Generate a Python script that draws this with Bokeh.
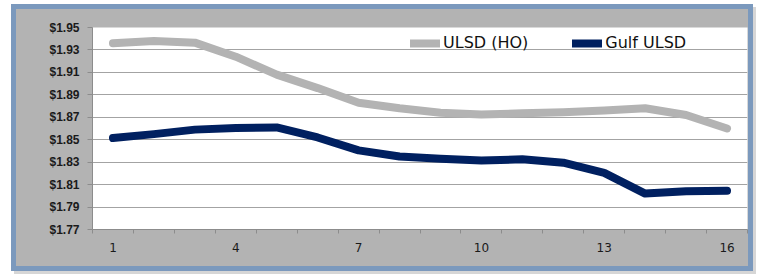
from bokeh.plotting import figure
from bokeh.models import (ColumnDataSource, FixedTicker, NumeralTickFormatter,
                          Legend, LegendItem, Range1d, LinearAxis)
from bokeh.embed import file_html
from bokeh.resources import INLINE

# ---- data ----
months = list(range(1, 17))
ulsd_ho = [1.936, 1.938, 1.9365, 1.924, 1.908, 1.896, 1.883, 1.878,
           1.874, 1.8725, 1.8735, 1.8745, 1.876, 1.878, 1.872, 1.860]
gulf_ulsd = [1.8515, 1.855, 1.859, 1.8605, 1.861, 1.852, 1.8405, 1.835,
             1.833, 1.8315, 1.8325, 1.8295, 1.8205, 1.802, 1.804, 1.8046]
x_tick_labels = [1, 4, 7, 10, 13, 16]
y_ticks = [1.77, 1.79, 1.81, 1.83, 1.85, 1.87, 1.89, 1.91, 1.93, 1.95]
series_names = ["ULSD (HO)", "Gulf ULSD"]
title_text = "Diesel Forward Curve"

GREY = "#b3b3b3"
NAVY = "#002060"
GRID = "#a3a3a3"
BORDER = "#7b99bd"
RED = "#e1232a"

src = ColumnDataSource(dict(x=months, ho=ulsd_ho, gulf=gulf_ulsd))

# panel drawn as CSS background layers behind the transparent canvas border
panel_css = (
    f"linear-gradient({GREY},{GREY}) 16px 9px / 732px 257px no-repeat, "
    f"linear-gradient({BORDER},{BORDER}) 11px 4px / 742px 267px no-repeat, "
    "linear-gradient(rgba(0,0,0,0.16),rgba(0,0,0,0.16)) 14px 7px / 742px 267px no-repeat, "
    "white"
)

W, H = 760, 274
p = figure(width=W, height=H, output_backend="svg", toolbar_location=None,
           x_range=Range1d(0.5, 16.5), y_range=Range1d(y_ticks[0], y_ticks[-1]),
           styles={"background": panel_css, "border-radius": "0px"})
p.min_border = 0
p.min_border_left = 92
p.min_border_right = 13
p.min_border_top = 27
p.min_border_bottom = 45
p.border_fill_color = None
p.border_fill_alpha = 0
p.background_fill_color = "white"
p.outline_line_color = None

r_ho = p.line("x", "ho", source=src, line_color=GREY, line_width=8,
              line_cap="round", line_join="round")
r_gulf = p.line("x", "gulf", source=src, line_color=NAVY, line_width=8,
                line_cap="round", line_join="round")

# y axis
yax = p.left[0]
yax.ticker = FixedTicker(ticks=y_ticks)
yax.formatter = NumeralTickFormatter(format="$0.00")
yax.major_label_text_font = "Liberation Sans"
yax.major_label_text_font_style = "bold"
yax.major_label_text_font_size = "12px"
yax.major_label_text_color = "#1a1a1a"
yax.axis_line_color = "#8c8c8c"
yax.major_tick_line_color = "#8c8c8c"
yax.major_tick_out = 5
yax.major_tick_in = 0
yax.minor_tick_line_color = None
yax.major_label_standoff = 8

# x axis
xax = p.below[0]
xax.ticker = FixedTicker(ticks=x_tick_labels,
                         minor_ticks=[m - 0.5 for m in months] + [months[-1] + 0.5])
xax.major_label_text_font = "DejaVu Sans"
xax.major_label_text_font_size = "12px"
xax.major_label_text_color = "#1a1a1a"
xax.axis_line_color = "#8c8c8c"
xax.major_tick_line_color = None
xax.minor_tick_line_color = "#8c8c8c"
xax.minor_tick_out = 4
xax.minor_tick_in = 0
xax.major_label_standoff = 7

# title, mostly cut off at the top edge as in the reference
title_pos = 6.58
tax = LinearAxis(ticker=FixedTicker(ticks=[title_pos], minor_ticks=[]),
                 major_label_overrides={title_pos: title_text},
                 fixed_location=1.959,
                 axis_line_color=None, major_tick_line_color=None,
                 minor_tick_line_color=None, major_tick_out=0, major_tick_in=0,
                 major_label_standoff=4,
                 major_label_text_font="Liberation Sans",
                 major_label_text_font_style="bold",
                 major_label_text_font_size="40px",
                 major_label_text_color=RED)
p.add_layout(tax, "above")

# grid
p.xgrid.grid_line_color = None
p.ygrid.ticker = FixedTicker(ticks=y_ticks)
p.ygrid.grid_line_color = GRID
p.ygrid.grid_line_width = 1

legend = Legend(items=[LegendItem(label=series_names[0], renderers=[r_ho]),
                       LegendItem(label=series_names[1], renderers=[r_gulf])],
                orientation="horizontal", location=(318, 177),
                glyph_width=30, glyph_height=16, label_height=16,
                label_standoff=3, spacing=44, padding=0, margin=0,
                border_line_color=None, background_fill_alpha=0,
                label_text_font="DejaVu Sans", label_text_font_size="16px",
                label_text_color="#111111")
p.add_layout(legend)

open("out.html", "w").write(file_html(p, INLINE))
